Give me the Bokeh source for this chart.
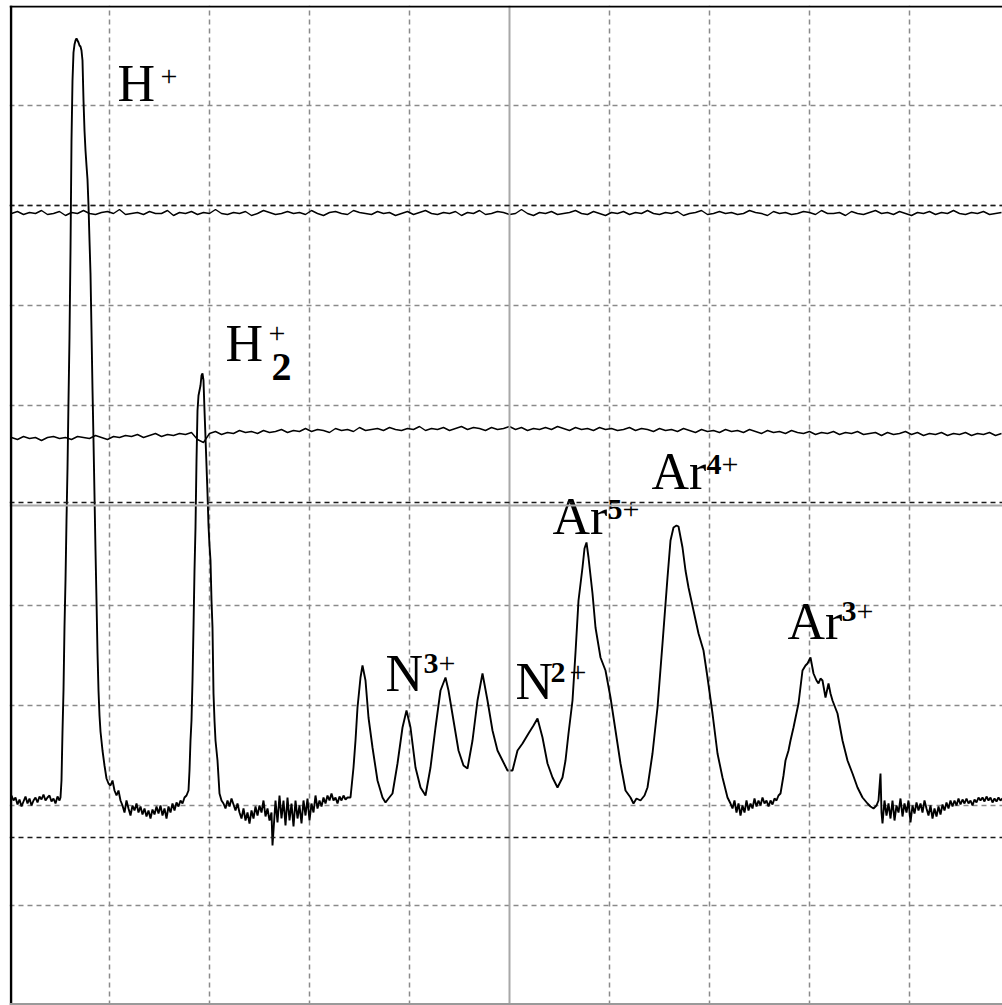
from bokeh.plotting import figure
from bokeh.models import Range1d, FixedTicker, Span
from bokeh.core.properties import value
from bokeh.embed import file_html
from bokeh.resources import INLINE

# ---- data (time units / signal units, 100 per division) ----
main_t = [2, 4, 6, 8, 10, 12, 14, 16, 18, 20, 22, 24, 26, 28, 30, 32, 34, 36, 38, 40, 42, 44, 46, 48, 50,
          51, 52, 53, 54, 55, 56, 57, 58, 59, 60, 61, 62, 63, 64, 65, 66, 67, 68, 69, 70, 71, 72, 73, 74, 75,
          76, 77, 78, 79, 80, 81, 82, 83, 84, 85, 86, 87, 88, 89, 90, 91, 93, 95, 97, 99, 101, 103, 105, 107, 109,
          111, 113, 115, 117, 119, 121, 123, 125, 127, 129, 131, 133, 135, 137, 139, 141, 143, 145, 147, 149,
          151, 153, 155, 157, 159, 161, 163, 165, 167, 169, 171, 173, 175, 177, 179,
          180, 181, 182, 183, 184, 185, 186, 187, 188, 189, 190, 191, 192, 193, 194, 195, 196, 197, 198, 199,
          200, 201, 202, 203, 204, 205, 206, 208, 210, 212, 214,
          216, 218, 220, 222, 224, 226, 228, 230, 232, 234, 236, 238, 240, 242, 244, 246, 248, 250, 252, 254,
          256, 258, 260, 262, 263, 264, 266, 268, 270, 272, 274, 276, 278, 280, 282, 284, 286, 288, 290, 292,
          294, 296, 298, 300, 302, 304, 306, 308, 310, 312, 314, 316, 318, 320, 322, 324, 326, 328, 330, 332,
          334, 336, 338,
          341, 344, 346, 348, 351, 353, 356, 359, 363, 368, 373, 376, 379, 383, 388, 393, 397, 401, 406, 411,
          416, 421, 426, 431, 436, 439, 444, 449, 454, 458, 463, 468, 473, 478, 483, 488, 493, 498, 503, 508,
          513, 519, 524, 528, 533, 538, 543, 548, 553, 556, 559, 563, 566, 569, 573, 575, 577, 579, 581, 583,
          586, 591, 596, 601, 606, 611, 616, 621, 624, 627, 631, 635, 638, 643, 648, 653, 658, 661, 664, 667,
          669, 673, 676, 679, 684, 689, 694, 698, 703, 708, 713, 718, 721,
          723, 725, 727, 729, 731, 733, 735, 737, 739, 741, 743, 745, 747, 749, 751, 753, 755, 757, 759, 761,
          763, 765, 767, 769, 771,
          774, 776, 779, 781, 784, 789, 793, 796, 798, 801, 804, 807, 809, 811, 813, 816, 819, 821, 823, 828,
          833, 838, 843, 848, 853, 858, 861, 864, 867, 869, 871, 872, 873,
          875, 877, 879, 881, 883, 885, 887, 889, 891, 893, 895, 897, 899, 901, 903, 905, 907, 909, 911, 913,
          915, 917, 919, 921, 923, 925, 927, 929, 931, 933, 935, 937, 939, 941, 943, 945, 947, 949, 951, 953,
          955, 957, 959, 961, 963, 965, 967, 969, 971, 973, 975, 977, 979, 981, 983, 985, 987, 989, 991, 993]

main_v = [210, 205, 208, 201, 206, 199, 204, 209, 202, 207, 200, 205, 208, 203, 209, 206, 211, 205, 208, 210, 204, 207, 202, 209, 205,
          208, 225, 274, 315, 379, 425, 485, 537, 605, 668, 755, 865, 925, 953, 961, 965, 967, 965, 963, 960, 959, 955, 945, 905, 875,
          855, 840, 826, 800, 765, 732, 675, 616, 565, 510, 455, 405, 353, 315, 290, 274, 255, 240, 227, 222, 220, 225, 215, 210, 215,
          205, 200, 193, 205, 197, 190, 200, 195, 202, 193, 199, 191, 197, 189, 195, 187, 196, 191, 199, 192,
          200, 190, 197, 187, 199, 193, 202, 195, 203, 199, 205, 202, 208, 210, 215,
          235, 265, 285, 325, 378, 435, 478, 545, 595, 610, 615, 620, 630, 632, 625, 595, 568, 540, 512, 480,
          460, 445, 405, 378, 312, 285, 265, 245, 212, 205, 202,
          197, 205, 199, 207, 201, 195, 202, 193, 187, 197, 185, 193, 182, 195, 187, 199, 190, 200, 193, 205,
          189, 197, 185, 193, 160, 175, 205, 183, 210, 187, 205, 180, 208, 185, 202, 179, 205, 187, 200, 182,
          205, 190, 207, 185, 202, 193, 210, 197, 205, 199, 208, 202, 210, 205, 212, 205, 208, 202, 209, 205,
          210, 206, 208,
          208, 238, 265, 298, 328, 340, 325, 288, 258, 225, 208, 203, 207, 212, 242, 278, 295, 278, 238, 218,
          210, 238, 278, 315, 328, 315, 285, 255, 240, 237, 265, 305, 332, 305, 275, 255, 245, 235, 235, 255,
          262, 272, 280, 287, 268, 242, 228, 218, 228, 245, 272, 305, 353, 405, 438, 457, 463, 448, 430, 412,
          378, 348, 335, 308, 275, 242, 215, 208, 202, 207, 205, 210, 218, 252, 298, 362, 428, 465, 478, 480,
          479, 458, 435, 418, 395, 372, 355, 328, 292, 252, 228, 208, 202,
          197, 205, 193, 202, 190, 200, 193, 205, 195, 202, 197, 207, 199, 205, 200, 208, 202, 205, 199, 205,
          201, 207, 205, 210, 212,
          230, 245, 255, 265, 278, 302, 335, 340, 342, 348, 332, 325, 322, 327, 325, 308, 322, 312, 305, 292,
          265, 245, 232, 218, 208, 202, 199, 197, 200, 205, 232, 193, 182,
          205, 190, 202, 187, 205, 185, 200, 193, 207, 189, 202, 193, 205, 183, 200, 192, 203, 195, 202, 193,
          205, 197, 190, 200, 187, 197, 189, 199, 191, 201, 195, 203, 197, 205, 199, 205, 200, 207, 201, 206,
          202, 207, 202, 205, 200, 206, 203, 208, 205, 208, 204, 209, 205, 208, 203, 207, 204, 208, 205, 207]

upper_v = [792, 794, 791, 793, 792, 795, 791, 792, 794, 790,
           793, 792, 795, 792, 791, 793, 794, 792, 796, 791,
           792, 793, 791, 794, 792, 792, 795, 790, 793, 792,
           794, 791, 793, 792, 796, 792, 791, 793, 792, 794,
           790, 792, 795, 793, 791, 792, 794, 792, 793, 791,
           795, 792, 790, 793, 794, 792, 791, 795, 793, 792,
           791, 794, 792, 793, 790, 792, 794, 791, 793, 795,
           792, 791, 793, 792, 794, 790, 793, 792, 795, 791,
           792, 794, 793, 791, 792, 796, 792, 790, 793, 792,
           794, 791, 792, 793, 795, 792, 791, 794, 792, 790,
           793, 792, 794, 791, 793, 792, 795, 792, 791, 793,
           792, 794, 790, 792, 793, 795, 791, 792, 794, 792,
           793, 791, 792, 795, 793, 792, 790, 794, 792, 793,
           791, 792, 794, 793, 791, 795, 792, 792, 793, 790,
           794, 792, 791, 793, 795, 792, 793, 791, 794, 792,
           790, 793, 792, 794, 791, 793, 792, 795, 792, 791,
           793, 792, 794, 791, 792, 793]

middle_v = [568, 566, 569, 567, 568, 565, 568, 569, 567, 568,
            566, 569, 568, 567, 570, 568, 566, 569, 568, 570,
            569, 571, 568, 570, 572, 569, 571, 570, 572, 571,
            573, 566, 563, 572, 574, 571, 573, 572, 575, 573,
            574, 572, 575, 573, 574, 576, 573, 575, 574, 577,
            574, 576, 575, 573, 577, 575, 576, 574, 578, 575,
            576, 577, 575, 578, 576, 575, 577, 576, 579, 575,
            577, 576, 578, 575, 577, 579, 576, 578, 577, 575,
            578, 576, 577, 579, 576, 578, 575, 577, 576, 578,
            576, 579, 577, 575, 578, 576, 577, 575, 578, 576,
            577, 575, 576, 578, 575, 577, 576, 574, 577, 575,
            576, 574, 577, 575, 573, 576, 574, 575, 573, 576,
            574, 575, 573, 576, 574, 572, 575, 573, 574, 572,
            575, 573, 572, 574, 571, 573, 572, 574, 571, 573,
            572, 574, 571, 572, 573, 570, 573, 571, 572, 574,
            571, 573, 570, 572, 571, 573, 570, 572, 571, 573,
            570, 572, 571, 573, 570, 572]

flat_t = list(range(2, 993, 6))  # sampling times of the two flat channels

marker_levels = [800, 503, 168]   # black dashed reference levels

# labels
ion_names = ["H", "H", "N", "N", "Ar", "Ar", "Ar"]
ion_t = [108, 216, 376, 506, 543, 642, 778]
ion_v = [922, 662, 332, 324, 489, 534, 384]
charge_digits = ["3", "2", "5", "4", "3"]
digit_t = [414, 541, 598, 697, 832]
digit_v = [342, 333, 496, 541, 394]
plus_t = [151, 259, 429, 560, 613, 712, 847]
plus_v = [929, 672, 342, 333, 496, 541, 394]
sub_digit = ["2"]
sub_t = [262]
sub_v = [639]

W, H = 1002, 1005
p = figure(width=W, height=H, output_backend="svg", toolbar_location=None,
           x_range=Range1d(0, 993), y_range=Range1d(0, 1000),
           min_border_left=9, min_border_right=0, min_border_top=5, min_border_bottom=0)
p.axis.visible = False
p.outline_line_color = None
p.background_fill_color = "white"
p.border_fill_color = "white"

grid_ticks = [100, 200, 300, 400, 600, 700, 800, 900]
for g in (p.xgrid[0], p.ygrid[0]):
    g.ticker = FixedTicker(ticks=grid_ticks)
    g.grid_line_color = "#8a8a8a"
    g.grid_line_width = 1.5
    g.grid_line_dash = "5 4"

# centre cross (solid gray)
p.add_layout(Span(location=500, dimension="height", line_color="#a8a8a8", line_width=2))
p.add_layout(Span(location=500, dimension="width", line_color="#a8a8a8", line_width=2))

# black dashed reference levels
for lv in marker_levels:
    p.add_layout(Span(location=lv, dimension="width", line_color="#1a1a1a",
                      line_width=1.6, line_dash="5 4"))

# borders
p.add_layout(Span(location=1.5, dimension="height", line_color="black", line_width=2.5))
p.add_layout(Span(location=999, dimension="width", line_color="black", line_width=2))
p.add_layout(Span(location=1.5, dimension="width", line_color="#9a9a9a", line_width=2))

# traces
p.line(flat_t, upper_v, line_color="black", line_width=1.4)
p.line(flat_t, middle_v, line_color="black", line_width=1.4)
p.line(main_t, main_v, line_color="black", line_width=1.9)

serif = value("Liberation Serif")
p.text(x=ion_t, y=ion_v, text=ion_names, text_font=serif, text_font_size="52px",
       text_color="black", text_align="left", text_baseline="alphabetic")
p.text(x=digit_t, y=digit_v, text=charge_digits, text_font=serif, text_font_size="30px",
       text_font_style="bold", text_color="black", text_align="left", text_baseline="alphabetic")
p.text(x=plus_t, y=plus_v, text=["+"] * len(plus_t), text_font=serif, text_font_size="30px",
       text_color="black", text_align="left", text_baseline="alphabetic")
p.text(x=sub_t, y=sub_v, text=sub_digit, text_font=serif, text_font_size="40px",
       text_font_style="bold", text_color="black", text_align="left", text_baseline="alphabetic")

open("out.html", "w").write(file_html(p, INLINE))
